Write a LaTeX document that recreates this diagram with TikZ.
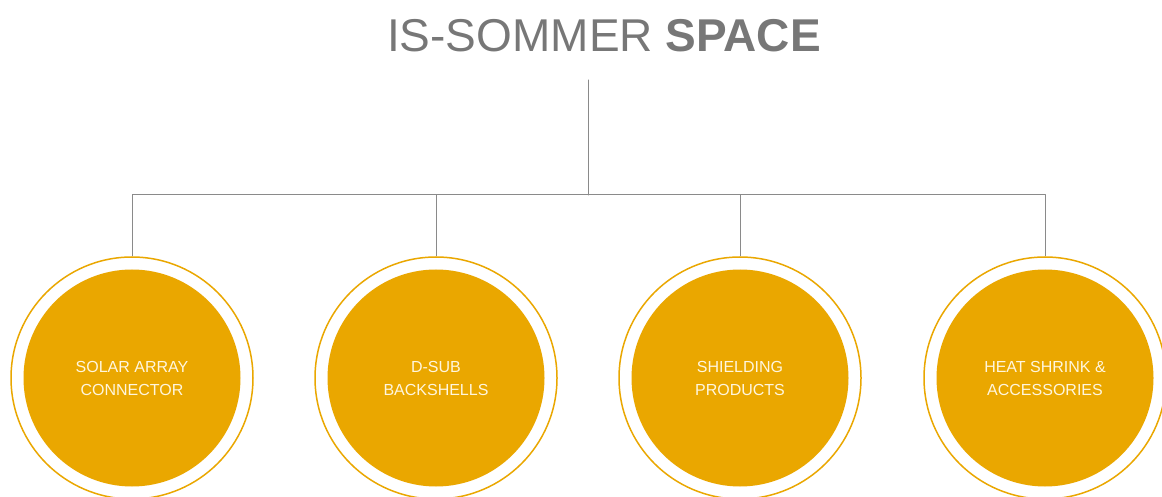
\documentclass[tikz,border=0pt]{standalone}
\usepackage{fontspec}
\setmainfont{Liberation Sans}
\usepackage{tikz}
\definecolor{amber}{RGB}{234,167,0}
\definecolor{titlegray}{RGB}{119,119,119}
\definecolor{linegray}{RGB}{138,138,138}
\definecolor{cream}{RGB}{255,246,222}

\begin{document}
\begin{tikzpicture}[line cap=round,line join=round,x=1pt,y=1pt,
    ring/.style={circle, draw=amber, line width=1.5pt, fill=white, minimum size=242pt, inner sep=0pt},
    disc/.style={circle, fill=amber, minimum size=217pt, inner sep=0pt, text=cream, align=center,
                 font=\fontsize{16}{23}\selectfont},
    branch/.style={draw=linegray, line width=1pt}]
    \useasboundingbox (0,0) rectangle (1162,496);

    \node[text=titlegray, font=\fontsize{46}{50}\selectfont, anchor=base] (title) at (604,444)
        {IS-SOMMER \textbf{SPACE}};

    \coordinate (top) at (588,416);
    \coordinate (hub) at (588,301);

    \node[ring] (c1) at (132,118) {};
    \node[disc] (d1) at (c1) {SOLAR ARRAY\\CONNECTOR};

    \node[ring] (c2) at (436,118) {};
    \node[disc] (d2) at (c2) {D-SUB\\BACKSHELLS};

    \node[ring] (c3) at (740,118) {};
    \node[disc] (d3) at (c3) {SHIELDING\\PRODUCTS};

    \node[ring] (c4) at (1045,118) {};
    \node[disc] (d4) at (c4) {HEAT SHRINK \&\\ACCESSORIES};

    \draw[branch] (top) -- (hub);
    \foreach \i in {1,...,4}
        \draw[branch, line cap=butt] (hub) -| (c\i.north);
\end{tikzpicture}
\end{document}
